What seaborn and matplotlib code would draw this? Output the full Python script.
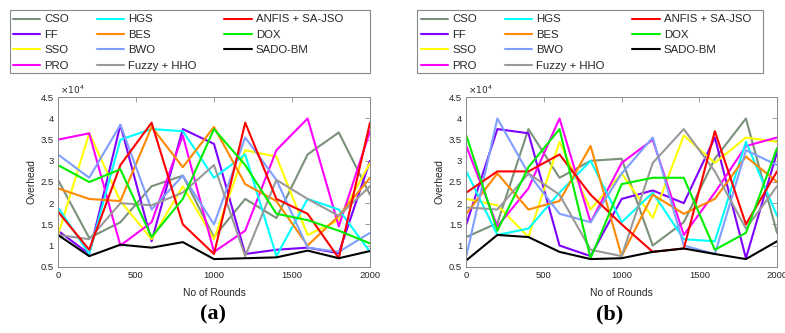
import matplotlib
matplotlib.use("Agg")
import matplotlib.pyplot as plt
import seaborn as sns
import pandas as pd
from matplotlib.patches import Rectangle
from matplotlib.lines import Line2D

# ---------------- data ----------------
rounds = [0, 200, 400, 600, 800, 1000, 1200, 1400, 1600, 1800, 2000]
methods = ["CSO", "FF", "SSO", "PRO", "HGS", "BES", "BWO", "Fuzzy + HHO",
           "ANFIS + SA-JSO", "DOX", "SADO-BM"]
colors = ["#7a917a", "#7f00ff", "#ffff00", "#ff00ff", "#00ffff", "#ff8800",
          "#7f9fff", "#999999", "#ff0000", "#00ee00", "#000000"]

# panel (a)
a_cso = [25500, 11800, 15500, 24000, 26500, 12000, 21000, 16500, 31500, 36700, 22000]
a_ff = [13500, 8000, 38500, 11000, 37500, 34000, 8000, 9000, 9500, 8200, 30000]
a_sso = [12500, 36500, 20500, 11500, 24000, 11500, 32500, 31000, 12500, 16000, 29500]
a_pro = [35000, 36500, 10000, 15500, 36000, 8500, 13500, 32500, 40000, 14500, 37000]
a_hgs = [19000, 8000, 35000, 37500, 37000, 26000, 31500, 7500, 21000, 18500, 8500]
a_bes = [23500, 21000, 20500, 38000, 28500, 38000, 24500, 20500, 10000, 17000, 26000]
a_bwo = [31500, 26000, 38500, 18500, 26500, 15000, 35500, 25500, 9500, 8500, 13000]
a_fuzzy = [12500, 11500, 20000, 19500, 22500, 29000, 7500, 25500, 21000, 17000, 24000]
a_anfis = [18000, 9000, 29000, 39000, 15000, 8000, 39000, 21000, 17500, 7000, 39000]
a_dox = [29000, 25000, 28000, 12000, 21000, 37500, 29000, 17500, 16000, 13500, 10500]
a_sado = [12500, 7500, 10200, 9500, 10800, 6800, 7000, 7200, 8800, 7000, 8700]

# panel (b)
b_cso = [12000, 15300, 37500, 26000, 30000, 30500, 10000, 15500, 30500, 40000, 13000]
b_ff = [15000, 37500, 36500, 10000, 7500, 21000, 23000, 20000, 35500, 7000, 32000]
b_sso = [21000, 19500, 12000, 34500, 18500, 27000, 16500, 36000, 29500, 35500, 34500]
b_pro = [33500, 14500, 23500, 40000, 15500, 29500, 35000, 12500, 22500, 33500, 35500]
b_hgs = [27500, 12500, 14000, 22500, 30000, 15500, 22500, 11500, 11000, 34500, 17000]
b_bes = [17500, 27000, 18500, 20500, 33500, 7500, 22000, 17500, 21000, 31000, 25000]
b_bwo = [7500, 40000, 27000, 17500, 15500, 27000, 35500, 10000, 8000, 32500, 29000]
b_fuzzy = [19000, 18500, 27000, 22000, 9000, 7500, 29500, 37500, 27500, 14000, 24000]
b_anfis = [22500, 27500, 27500, 31500, 22000, 15000, 8500, 9300, 37000, 15000, 27500]
b_dox = [36000, 13500, 28500, 37500, 7000, 24500, 26000, 26000, 9000, 13000, 33000]
b_sado = [6500, 12500, 12000, 8500, 6800, 7000, 8500, 9300, 8000, 6800, 11000]

panel_a = [a_cso, a_ff, a_sso, a_pro, a_hgs, a_bes, a_bwo, a_fuzzy, a_anfis, a_dox, a_sado]
panel_b = [b_cso, b_ff, b_sso, b_pro, b_hgs, b_bes, b_bwo, b_fuzzy, b_anfis, b_dox, b_sado]

yticks = [5000, 10000, 15000, 20000, 25000, 30000, 35000, 40000, 45000]
ytick_labels = ["0.5", "1", "1.5", "2", "2.5", "3", "3.5", "4", "4.5"]
xticks = [0, 500, 1000, 1500, 2000]
panel_labels = ["(a)", "(b)"]

# ---------------- style ----------------
sns.set_style("white")
plt.rcParams["font.family"] = ["Liberation Sans", "DejaVu Sans"]

W, H = 785, 333
fig = plt.figure(figsize=(W / 100, H / 100), dpi=100)
palette = dict(zip(methods, colors))


def fx(px):
    return px / W


def fy(py):
    return 1 - py / H


axes_boxes = [(58, 370), (466.3, 777)]
legend_boxes = [(10, 370), (417.3, 763)]
legend_starts = [13, 421]
panel_centers = [213, 610]
frame_col = "#8a8a8a"
text_col = "#262626"

for i, data in enumerate([panel_a, panel_b]):
    x0, x1 = axes_boxes[i]
    ax = fig.add_axes([fx(x0), fy(266.7), (x1 - x0) / W, (266.7 - 97.3) / H])
    rows = []
    for m, vals in zip(methods, data):
        for r, v in zip(rounds, vals):
            rows.append({"Rounds": r, "Overhead": v, "Method": m})
    df = pd.DataFrame(rows)
    sns.lineplot(data=df, x="Rounds", y="Overhead", hue="Method",
                 hue_order=methods, palette=palette, linewidth=1.5,
                 estimator=None, legend=False, ax=ax)
    ax.set_xlim(0, 2000)
    ax.set_ylim(5000, 45000)
    ax.set_xticks(xticks)
    ax.set_xticklabels([str(t) for t in xticks])
    ax.set_yticks(yticks)
    ax.set_yticklabels(ytick_labels)
    ax.tick_params(axis="both", direction="in", length=3.5, width=0.6,
                   labelsize=6.8, colors=frame_col, labelcolor=text_col,
                   top=True, right=True, pad=3)
    for s in ax.spines.values():
        s.set_color(frame_col)
        s.set_linewidth(0.7)
    ax.set_xlabel("No of Rounds", fontsize=7.4, color=text_col, labelpad=6)
    ax.set_ylabel("Overhead", fontsize=7.4, color=text_col, labelpad=3)
    ax.text(0.005, 1.005, r"$\times10^{4}$", transform=ax.transAxes,
            fontsize=6.5, color=text_col, ha="left", va="bottom")

    # legend
    handles = [Line2D([0], [0], color=c, lw=1.5) for c in colors]
    fig.legend(handles, methods, ncol=3, loc="upper left",
               bbox_to_anchor=(fx(legend_starts[i]), fy(14.5)),
               frameon=False, borderpad=0, borderaxespad=0,
               fontsize=8.2, handlelength=2.4, handletextpad=0.35,
               columnspacing=2.45, labelspacing=0.48, labelcolor=text_col)
    lx0, lx1 = legend_boxes[i]
    fig.add_artist(Rectangle((fx(lx0), fy(72.7)), (lx1 - lx0) / W, (72.7 - 10) / H,
                             transform=fig.transFigure, fill=False,
                             edgecolor=frame_col, linewidth=0.8))

    fig.text(fx(panel_centers[i]), fy(314), panel_labels[i], ha="center",
             va="center", fontsize=16, fontweight="bold",
             family=["Liberation Serif", "DejaVu Serif"], color="black")

fig.savefig("out.png", dpi=100)
